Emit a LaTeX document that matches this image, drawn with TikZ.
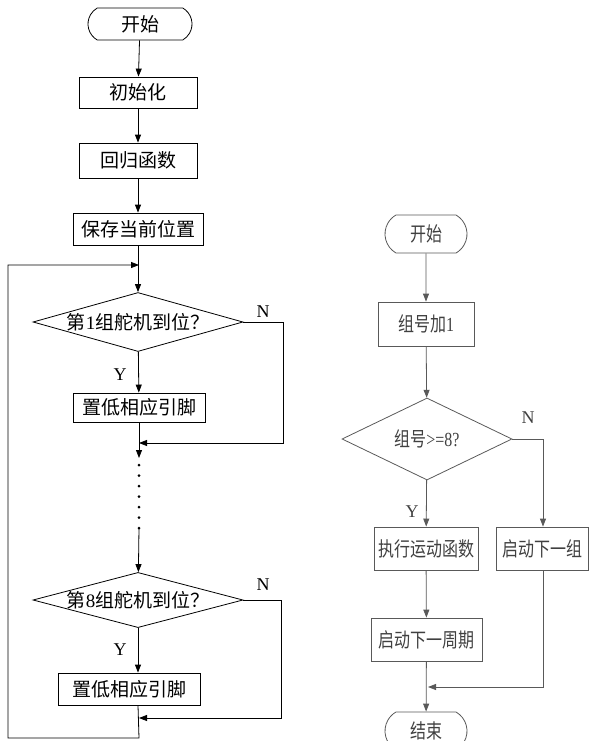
\documentclass[tikz,border=0pt]{standalone}
\usepackage{fontspec}
\setmainfont{Liberation Serif}
\newfontfamily\cjk{Noto Sans CJK SC}
\newfontfamily\cjknarrow[FakeStretch=0.8]{Noto Sans CJK SC}
\newfontfamily\serifnarrow[FakeStretch=0.8]{Liberation Serif}
\usetikzlibrary{shapes.geometric,shapes.misc,arrows.meta}

\begin{document}
\begin{tikzpicture}[x=1pt,y=-1pt,
    >={Triangle[length=8pt,width=6pt]},
    line width=0.8pt,
    leftfont/.style={font=\cjk\fontsize{19}{21}\selectfont},
    rightfont/.style={font=\cjknarrow\fontsize{20}{22}\selectfont},
    term/.style={draw,rounded rectangle,rounded rectangle arc length=120,inner sep=0pt},
    proc/.style={draw,rectangle,inner sep=0pt},
    test/.style={draw,diamond,inner sep=0pt},
    yn/.style={font=\rmfamily\fontsize{18}{20}\selectfont}]
        \useasboundingbox (0,0) rectangle (589,741);

        \begin{scope}[leftfont]
        \node[term,minimum width=104pt,minimum height=32pt] (start1) at (140,24) {开始};
        \node[proc,minimum width=118pt,minimum height=31pt] (init) at (138,92.5) {初始化};
        \node[proc,minimum width=118pt,minimum height=35pt] (ret) at (138,160.5) {回归函数};
        \node[proc,minimum width=130pt,minimum height=32pt] (save) at (138,229) {保存当前位置};
        \node[test,aspect=3.56,minimum width=210pt,minimum height=59pt] (dec1) at (138,322) {第{\rmfamily 1}组舵机到位？};
        \node[proc,minimum width=132pt,minimum height=29pt] (low1) at (139,407.5) {置低相应引脚};
        \node[test,aspect=3.8,minimum width=210pt,minimum height=55pt] (dec8) at (138,600) {第{\rmfamily 8}组舵机到位？};
        \node[proc,minimum width=142pt,minimum height=32pt] (low8) at (129,689) {置低相应引脚};
        \end{scope}

        \node[yn] (n1) at (263,312) {N};
        \node[yn] (y1) at (120,375) {Y};
        \node[yn] (n8) at (263,585) {N};
        \node[yn] (y8) at (120,650) {Y};

        \coordinate (r1) at (283,322);
        \coordinate (j1) at (139,443);
        \coordinate (dtop) at (139,458);
        \coordinate (dbot) at (139,528);
        \coordinate (r8) at (281,600);
        \coordinate (j8) at (139,718);
        \coordinate (b8) at (139,738);
        \coordinate (loopbl) at (8,738);
        \coordinate (looptl) at (8,265);
        \coordinate (loopin) at (139,265);

        \draw[->] (start1) -- (init);
        \draw[->] (init) -- (ret);
        \draw[->] (ret) -- (save);
        \draw[->] (save) -- (dec1);
        \draw[->] (dec1) -- (low1);
        \draw[->] (dec1.east) -- (r1) -- (r1 |- j1) -- (j1);
        \draw[->] (low1) -- (dtop);
        \foreach \y in {465,475.5,...,529}
          \fill (139,\y) circle (1.5pt);
        \draw[->] (dbot) -- (dec8);
        \draw[->] (dec8) -- (dec8.south |- low8.north);
        \draw[->] (dec8.east) -- (r8) -- (r8 |- j8) -- (j8);
        \draw[->] (dec8.south |- low8.south) -- (b8) -- (loopbl) -- (looptl) -- (loopin);

        \begin{scope}[rightfont,draw=black!65,text=black!75]
        \node[term,minimum width=82pt,minimum height=38pt] (start2) at (426,234) {开始};
        \node[proc,minimum width=96pt,minimum height=44pt] (inc) at (426,324) {组号加{\serifnarrow 1}};
        \node[test,aspect=2.07,minimum width=170pt,minimum height=82pt] (dec) at (427,439) {组号{\serifnarrow >=8?}};
        \node[proc,minimum width=104pt,minimum height=43pt] (exec) at (426,548.5) {执行运动函数};
        \node[proc,minimum width=92pt,minimum height=43pt] (next) at (542,548.5) {启动下一组};
        \node[proc,minimum width=111pt,minimum height=43pt] (period) at (426.5,639.5) {启动下一周期};
        \node[term,minimum width=82pt,minimum height=38pt] (end2) at (426,731) {结束};

        \node[yn] (n2) at (528,418) {N};
        \node[yn] (y2) at (412,512) {Y};

        \coordinate (r2) at (543,439);
        \coordinate (j2) at (428,687);

        \draw[->] (start2) -- (inc);
        \draw[->] (inc) -- (dec);
        \draw[->] (dec) -- (exec);
        \draw[->] (dec.east) -- (r2) -- (r2 |- next.north);
        \draw[->] (exec) -- (period);
        \draw[->] (period) -- (end2);
        \draw[->] (r2 |- next.south) -- (r2 |- j2) -- (j2);
        \end{scope}
      \end{tikzpicture}
\end{document}
